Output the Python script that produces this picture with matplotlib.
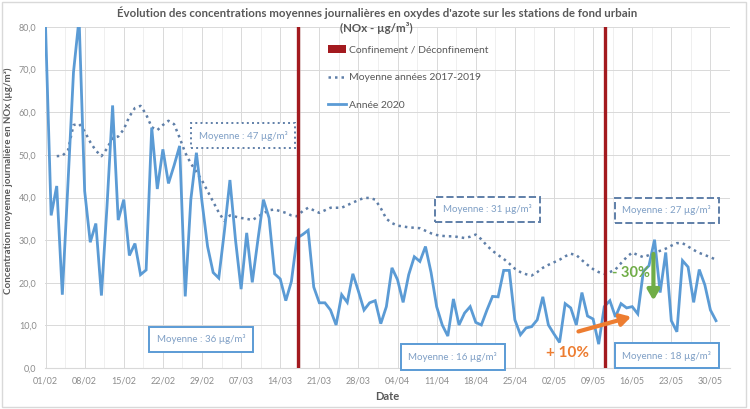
import matplotlib
matplotlib.use('Agg')
import matplotlib.pyplot as plt
from matplotlib.patches import Patch, Rectangle
from matplotlib.lines import Line2D
import numpy as np

plt.rcParams['font.family'] = ['Lato', 'DejaVu Sans']

# daily NOx means, 01/02/2020 -> 31/05/2020
nox_2020 = [
    80, 35.8, 42.7, 17.2, 43, 69.4, 82, 41.5, 29.5, 33.9,
    17, 38, 61.6, 34.7, 39.5, 26.4, 29.2, 21.9, 23, 56.4,
    42, 51.3, 43.3, 47.5, 52.1, 16.8, 39.5, 50.5, 39, 28.5,
    22.4, 21.1, 32, 44.1, 30, 18.5, 31.7, 20.1, 30, 39.5,
    35.2, 22.1, 20.9, 15.8, 20.3, 30.5, 31.3, 32.3, 19, 15.3,
    15.3, 13.6, 10.1, 17.2, 15.4, 22.1, 18, 13.6, 15.3, 15.8,
    10.4, 14.4, 23.5, 20.7, 15.4, 21.9, 26.1, 25, 28.5, 22.4,
    14.4, 10.1, 7.5, 16.2, 10.1, 12.9, 14.4, 10.7, 10.1, 13.6,
    16.8, 16.7, 22.9, 22.9, 11.3, 7.8, 9.4, 9.7, 11.3, 16.7,
    10.1, 8, 6, 15.1, 14.1, 10.1, 17.7, 12.2, 11.5, 5.6,
    14.4, 15.8, 12, 15.1, 14.1, 14.4, 12.7, 22.7, 24, 30.1,
    17.7, 27.1, 11.1, 8.5, 25.2, 23.7, 15.4, 23.1, 19.5, 13.6,
    11.1,
]

# smoothed mean of the years 2017-2019, same days
nox_2017_2019 = [
    np.nan, np.nan, 49.7, 49.8, 51, 57, 57.3, 55.5, 53, 51,
    49.7, 51.5, 54, 54.3, 56, 59, 61, 61.5, 59.5, 56.5,
    55.8, 57, 58, 57.2, 54, 50.5, 48, 46, 44, 41.5,
    39, 36.5, 34.5, 35.8, 35.5, 35.2, 35, 34.7, 35.5, 36.3,
    37, 37.2, 36.8, 36.4, 35.8, 35.6, 36.8, 37.6, 37, 36.4,
    37, 37.6, 37.6, 37.6, 38.2, 38.8, 39.4, 39.9, 39.9, 39.5,
    37.5, 35, 34, 33.4, 33.2, 33, 32.9, 32.8, 32.2, 31.6,
    31.2, 31, 30.9, 30.9, 30.7, 30.5, 30.8, 31.3, 30.2, 28.7,
    27.5, 26.5, 25.6, 24.5, 23.3, 22.5, 22, 21.7, 22.5, 23.5,
    24.2, 24.8, 25.4, 26.2, 26.8, 26.5, 25.3, 24.2, 23.2, 22.5,
    22.1, 22.5, 23.1, 24.6, 26, 27.1, 26.5, 26, 26.5, 27.1,
    27.5, 28, 28.7, 29.3, 29.3, 28.5, 27.7, 27, 26.5, 26,
    25.4,
]

tick_labels = ['01/02', '08/02', '15/02', '22/02', '29/02', '07/03', '14/03', '21/03',
               '28/03', '04/04', '11/04', '18/04', '25/04', '02/05', '09/05', '16/05',
               '23/05', '30/05']
event_days = [45, 100]  # 17/03 confinement, 11/05 deconfinement

days = np.arange(len(nox_2020))

BLUE = '#5B9BD5'
SLATE = '#5F7FA8'
RED = '#A31A1F'
GREY = '#595959'
TICK = '#8C8C8C'
BOXTXT = '#7F9FC5'

fig = plt.figure(figsize=(7.5, 4.09), dpi=100)
ax = fig.add_axes([0.06, 0.1002, 0.9133, 0.8338])

ax.set_xlim(-0.1, 120.65)
ax.set_ylim(0, 80)

# grid
ax.set_yticks(np.arange(0, 81, 10))
ax.set_yticklabels([f'{v:.1f}'.replace('.', ',') for v in np.arange(0, 81, 10)])
ax.set_xticks(np.arange(len(tick_labels)) * 7)
ax.set_xticklabels(tick_labels)
ax.set_xticks(np.arange(len(tick_labels)) * 7 + 3.5, minor=True)
ax.grid(True, which='major', color='#D9D9D9', lw=0.7)
ax.grid(True, which='minor', axis='x', color='#EDEDED', lw=0.6)
ax.set_axisbelow(True)
ax.tick_params(which='both', length=0, labelsize=6.5, colors=TICK, pad=6)
for s in ['top', 'right', 'left']:
    ax.spines[s].set_visible(False)
ax.spines['bottom'].set_color('#D9D9D9')

for d in event_days:
    ax.axvline(d + 0.1, color=RED, lw=2.4, zorder=4)

ax.plot(days, nox_2017_2019, color=SLATE, lw=1.8, ls=(0, (1, 1.6)), zorder=3)
ax.plot(days, nox_2020, color=BLUE, lw=2.0, zorder=3, solid_joinstyle='miter')

# average boxes
def box(x, y, txt, ls, ec):
    ax.text(x, y, txt, ha='center', va='center', fontsize=7, color=BOXTXT, zorder=6,
            bbox=dict(boxstyle='square,pad=0.8', fc='white', ec=ec, lw=1.4, ls=ls))

box(35.4, 54.5, 'Moyenne : 47 µg/m³', ':', SLATE)
box(27.8, 6.7, 'Moyenne : 36 µg/m³', '-', BLUE)
box(79.1, 37.2, 'Moyenne : 31 µg/m³', '--', SLATE)
box(72.9, 2.6, 'Moyenne : 16 µg/m³', '-', BLUE)
box(111.2, 37.0, 'Moyenne : 27 µg/m³', '--', SLATE)
box(111.2, 2.9, 'Moyenne : 18 µg/m³', '-', BLUE)

# arrows
ax.annotate('', xy=(105.3, 12.2), xytext=(94.9, 8.4),
            arrowprops=dict(arrowstyle='-|>,head_width=0.35,head_length=0.6',
                            color='#ED7D31', lw=3), zorder=7)
ax.text(93.5, 3.5, '+ 10%', color='#ED7D31', fontsize=11, fontweight='bold',
        ha='center', va='center', zorder=7)
ax.annotate('', xy=(108.8, 15.2), xytext=(108.8, 27.4),
            arrowprops=dict(arrowstyle='-|>,head_width=0.35,head_length=0.6',
                            color='#70AD47', lw=3), zorder=7)
ax.text(101.3, 22.4, '- 30%', color='#70AD47', fontsize=10.5, fontweight='bold',
        ha='left', va='center', zorder=8)

# legend
handles = [Patch(facecolor=RED, edgecolor='none'),
           Line2D([], [], color=SLATE, lw=1.8, ls=(0, (1, 1.6))),
           Line2D([], [], color=BLUE, lw=2.0)]
labels = ['Confinement / Déconfinement', 'Moyenne années 2017-2019', 'Année 2020']
leg = ax.legend(handles, labels, loc='upper left', bbox_to_anchor=(0.407, 0.958),
                frameon=False, fontsize=7.5, labelspacing=1.75, handlelength=1.7,
                handletextpad=0.3, borderaxespad=0)
for t in leg.get_texts():
    t.set_color(GREY)

ax.set_ylabel('Concentration moyenne journalière en NOx (µg/m³)', fontsize=7,
              fontweight='bold', color=GREY)
ax.yaxis.set_label_coords(-0.047, 0.548)
ax.set_xlabel('Date', fontsize=8, fontweight='bold', color=GREY, labelpad=4)

fig.text(0.503, 0.968, "Évolution des concentrations moyennes journalières en oxydes d'azote sur les stations de fond urbain",
         ha='center', va='center', fontsize=8.3, fontweight='bold', color=GREY)
fig.text(0.502, 0.932, '(NOx - µg/m³)', ha='center', va='center', fontsize=8.3,
         fontweight='bold', color=GREY)

fig.patches.append(Rectangle((0.003, 0.005), 0.992, 0.99, transform=fig.transFigure,
                             fill=False, ec='#D9D9D9', lw=1))

fig.savefig('out.png', dpi=100)
